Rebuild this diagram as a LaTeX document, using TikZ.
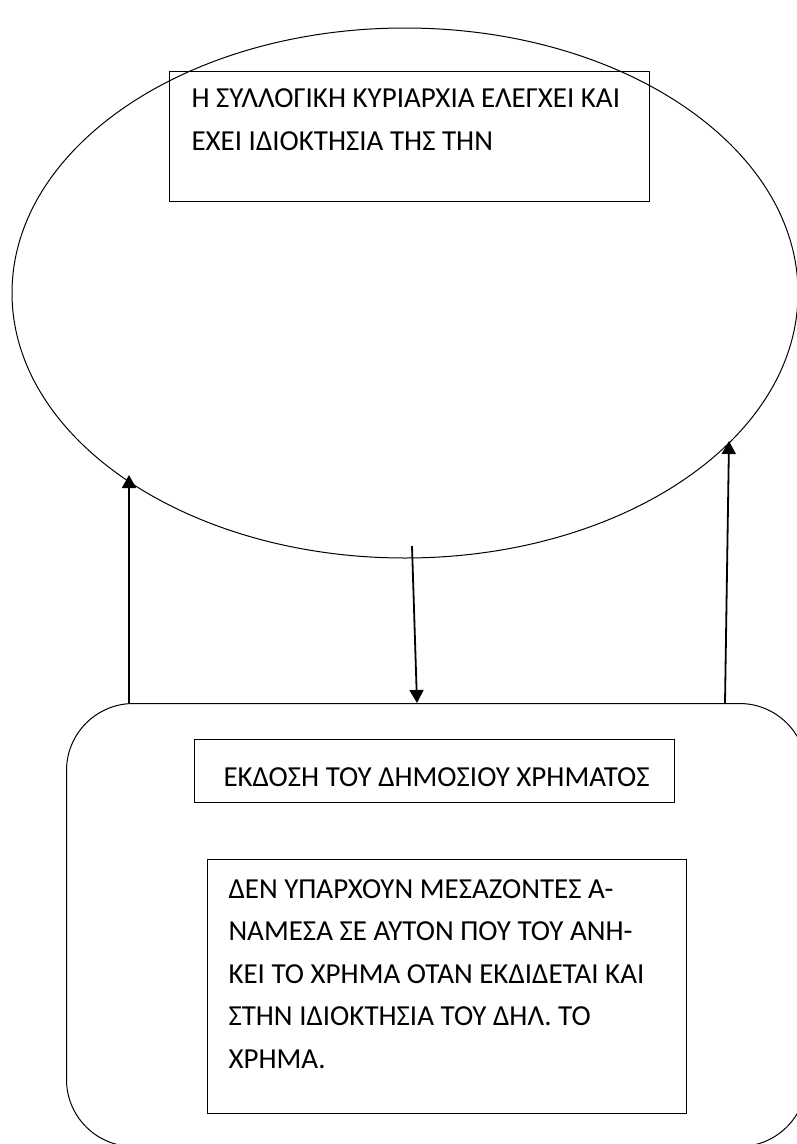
\documentclass[tikz,border=0pt]{standalone}
\usepackage{fontspec}
\setmainfont{Carlito}
\usetikzlibrary{shapes.geometric, arrows.meta}

\begin{document}
\begin{tikzpicture}[
		x=1pt, y=-1pt,
		line width=1pt,
		box/.style={draw, rectangle, inner sep=0pt, anchor=north west, line width=1.4pt},
		txt/.style={anchor=base west, inner sep=0pt, font=\fontsize{29}{34}\selectfont},
		arr/.style={line width=1.8pt, -{Triangle[length=13pt, width=14pt]}}
		]

	\useasboundingbox (0,0) rectangle (797,1144);
	\clip (0,0) rectangle (797,1144);

	% Ellipse
	\node[draw, ellipse, inner sep=0pt, minimum width=786pt, minimum height=530pt] (coll) at (405,293) {};

	% Top box
	\node[box, minimum width=480pt, minimum height=130pt] (ctrl) at (169,71) {};
	\foreach \i/\y/\t in {1/107/{Η ΣΥΛΛΟΓΙΚΗ ΚΥΡΙΑΡΧΙΑ ΕΛΕΓΧΕΙ ΚΑΙ},
		2/150/{ΕΧΕΙ ΙΔΙΟΚΤΗΣΙΑ ΤΗΣ ΤΗΝ}}{
		\node[txt] (ctrl\i) at (191,\y) {\t};
	}

	% Rounded box
	\node[draw, rounded corners=67pt, anchor=north west, inner sep=0pt,
		minimum width=740pt, minimum height=443pt] (issue) at (66,703) {};

	% Middle box
	\node[box, minimum width=480pt, minimum height=63pt] (title) at (194,739) {};
	\node[txt] (title1) at (223,786) {ΕΚΔΟΣΗ ΤΟΥ ΔΗΜΟΣΙΟΥ ΧΡΗΜΑΤΟΣ};

	% Bottom box
	\node[box, minimum width=479pt, minimum height=254pt] (note) at (207,859) {};
	\foreach \i/\y/\t in {1/898/{ΔΕΝ ΥΠΑΡΧΟΥΝ ΜΕΣΑΖΟΝΤΕΣ Α-},
		2/940.5/{ΝΑΜΕΣΑ ΣΕ ΑΥΤΟΝ ΠΟΥ ΤΟΥ ΑΝΗ-},
		3/983/{ΚΕΙ ΤΟ ΧΡΗΜΑ ΟΤΑΝ ΕΚΔΙΔΕΤΑΙ ΚΑΙ},
		4/1025.5/{ΣΤΗΝ ΙΔΙΟΚΤΗΣΙΑ ΤΟΥ ΔΗΛ. ΤΟ},
		5/1068/{ΧΡΗΜΑ.}}{
		\node[txt] (note\i) at (228,\y) {\t};
	}

	% Arrows
	\coordinate (l-tip) at (129,475);
	\coordinate (r-foot) at (725,703);
	\coordinate (r-tip) at (729,441);
	\coordinate (d-top) at (412,546);
	\coordinate (d-foot) at (417,703);
	\draw[arr] (issue.north -| l-tip) -- (l-tip);
	\draw[arr] (r-foot) -- (r-tip);
	\draw[arr] (d-top) -- (d-foot);

\end{tikzpicture}
\end{document}
